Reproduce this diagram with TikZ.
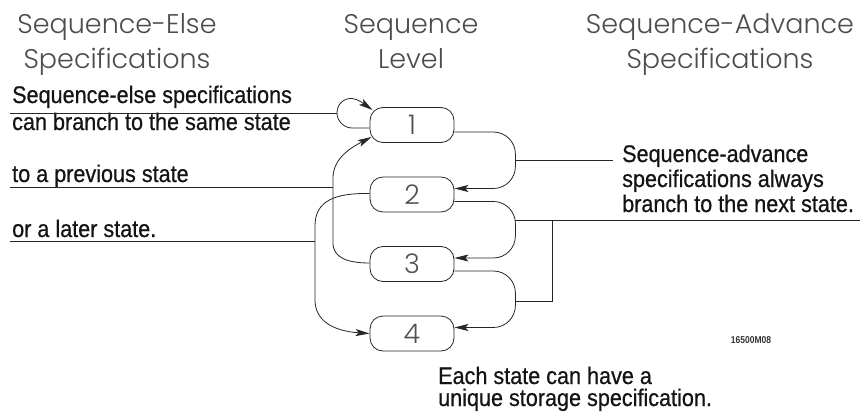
\documentclass[tikz,border=0pt]{standalone}
\usepackage{fontspec}
\setmainfont{Liberation Sans}
\newfontfamily\bodyfont{Liberation Sans}[FakeStretch=0.9,FakeBold=0.6]
\newfontfamily\codefont{Liberation Sans}[FakeStretch=0.85]
\IfFontExistsTF{Poppins Light}{\newfontfamily\titlefont{Poppins Light}}{\newfontfamily\titlefont{Poppins}}
\usetikzlibrary{arrows.meta,calc}
\begin{document}
\begin{tikzpicture}[x=1pt,y=-1pt,
  txt/.style={inner sep=0pt, anchor=base west, text=black!92, font=\bodyfont\fontsize{24}{24}\selectfont},
  ttl/.style={inner sep=0pt, anchor=base, text=black!70, font=\titlefont\fontsize{27}{27}\selectfont},
  state/.style={draw=black!85, line width=0.8pt, rounded corners=13pt, minimum width=84pt, minimum height=35pt,
    inner sep=0pt, text=black!68, font=\titlefont\fontsize{27}{27}\selectfont},
  wire/.style={line width=0.8pt, draw=black!85},
  arr/.style={wire, -{Stealth[length=14pt,width=7pt,inset=3pt]}}]
\useasboundingbox (0,0) rectangle (867,420);

% titles
\node[ttl] (t1a) at (117,34) {Sequence-Else};
\node[ttl] (t1b) at (117,69) {Specifications};
\node[ttl] (t2a) at (411,34) {Sequence};
\node[ttl] (t2b) at (411,69) {Level};
\node[ttl] (t3a) at (720,34) {Sequence-Advance};
\node[ttl] (t3b) at (720,69) {Specifications};

% states
\node[state] (n1) at (412,125) {1};
\node[state] (n2) at (412,194.5) {2};
\node[state] (n3) at (412,264) {3};
\node[state] (n4) at (412,333.5) {4};

% left texts
\node[txt] (l1) at (12,103) {Sequence-else specifications};
\node[txt] (l2) at (12,130) {can branch to the same state};
\node[txt] (l3) at (12,182) {to a previous state};
\node[txt] (l4) at (12,237) {or a later state.};

% right texts
\node[txt] (r1) at (622,162) {Sequence-advance};
\node[txt] (r2) at (622,187) {specifications always};
\node[txt] (r3) at (622,212) {branch to the next state.};

% bottom texts
\node[txt] (b1) at (438,384) {Each state can have a};
\node[txt] (b2) at (438,406) {unique storage specification.};

\node[inner sep=0pt, text=black!80, font=\codefont\bfseries\fontsize{10}{10}\selectfont] (code) at (751,340) {16500M08};

% coordinates
\coordinate (loopL) at (337,113);
\coordinate (u1) at (10,113);
\coordinate (u2) at (10,187);
\coordinate (v1) at (333,187);
\coordinate (u3) at (10,241);
\coordinate (v2) at (315,241);
\coordinate (j1) at (515,160);
\coordinate (j1e) at (613,160);
\coordinate (j2) at (515,220);
\coordinate (j2e) at (860,220);
\coordinate (j3) at (515,301);
\coordinate (j3c) at (552,301);
\coordinate (j2c) at (552,220);

% self loop on state 1
\draw[arr] ($(n1.west)+(0,3)$) -- (352,128) .. controls (344,128) and (337,121) .. (loopL)
  .. controls (337,104) and (344,98) .. (352,98.5) .. controls (358,99) and (364,104) .. ($(n1.west)+(3,-15)$);
% 3 -> 1
\draw[arr] ($(n3.west)+(0,-1)$) .. controls (348,263) and (333,258) .. (333,243) -- (333,178)
  .. controls (333,160) and (348,149) .. ($(n1.west)+(2,12)$);
% 2 -> 4
\draw[arr] ($(n2.west)+(0,-1)$) .. controls (336,193) and (315,200) .. (315,226) -- (315,300)
  .. controls (315,320) and (332,331) .. (n4.west);

% right: advance
\draw[arr, rounded corners=22pt] ($(n1.east)+(0,7)$) -- ++(61,0) |- ($(n2.east)+(0,-6)$);
\draw[arr, rounded corners=22pt] ($(n2.east)+(0,7)$) -- ++(61,0) |- ($(n3.east)+(0,-6)$);
\draw[arr, rounded corners=22pt] ($(n3.east)+(0,7)$) -- ++(61,0) |- ($(n4.east)+(0,-6)$);

% leader lines
\draw[wire] (u1) -- (loopL);
\draw[wire] (u2) -- (v1);
\draw[wire] (u3) -- (v2);
\draw[wire] (j1) -- (j1e);
\draw[wire] (j2) -- (j2e);
\draw[wire] (j3) -- (j3c) -- (j2c);
\end{tikzpicture}
\end{document}
